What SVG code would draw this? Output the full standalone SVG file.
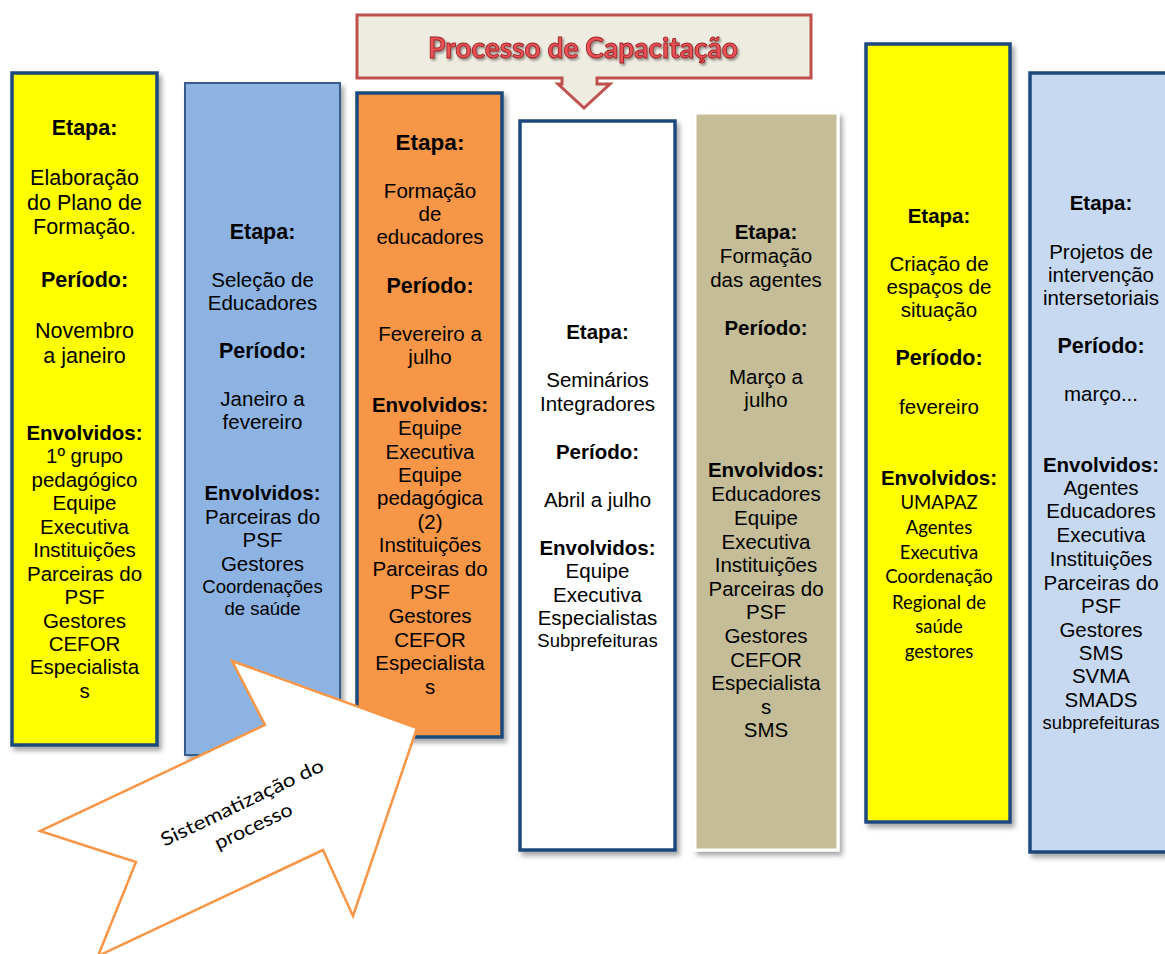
<svg xmlns="http://www.w3.org/2000/svg" width="1165" height="954" viewBox="0 0 1165 954">
<defs>
<filter id="sh" x="-10%" y="-10%" width="130%" height="130%">
<feDropShadow dx="3" dy="4" stdDeviation="2.5" flood-color="#000" flood-opacity="0.35"/>
</filter>
<filter id="tsh" x="-10%" y="-30%" width="130%" height="170%">
<feDropShadow dx="1.5" dy="2" stdDeviation="1.2" flood-color="#000" flood-opacity="0.4"/>
</filter>
</defs>
<style>
.col{stroke:#1F497D;stroke-width:3.5;filter:url(#sh)}
text{font-family:"Liberation Sans",Arial,sans-serif;font-size:20.5px;text-anchor:middle;fill:#000}
.b{font-weight:bold}
.L{font-size:21.5px}
.s{font-size:18.5px}
.c{font-family:Lato,"Open Sans",sans-serif;font-size:18.5px}
.title{font-family:Lato,"Open Sans",sans-serif;font-weight:bold;font-size:29px;fill:#EC5257;stroke:#9A2226;stroke-width:0.9;filter:url(#tsh)}
.arrowtxt{font-family:Lato,"Open Sans",sans-serif;font-size:19px}
</style>

<g id="col1">
<rect class="col" x="12" y="73" width="145" height="672" fill="#FFFF00"/>
<text class="b L" x="84.5" y="135">Etapa:</text>
<text class="L" x="84.5" y="185">Elaboração</text>
<text class="L" x="84.5" y="210">do Plano de</text>
<text class="L" x="84.5" y="234">Formação.</text>
<text class="b L" x="84.5" y="287">Período:</text>
<text class="L" x="84.5" y="338">Novembro</text>
<text class="L" x="84.5" y="363">a janeiro</text>
<text class="b" x="84.5" y="440">Envolvidos:</text>
<text x="84.5" y="463">1º grupo</text>
<text x="84.5" y="487">pedagógico</text>
<text x="84.5" y="510">Equipe</text>
<text x="84.5" y="534">Executiva</text>
<text x="84.5" y="557">Instituições</text>
<text x="84.5" y="581">Parceiras do</text>
<text x="84.5" y="604">PSF</text>
<text x="84.5" y="628">Gestores</text>
<text x="84.5" y="651">CEFOR</text>
<text x="84.5" y="674">Especialista</text>
<text x="84.5" y="698">s</text>
</g>

<g id="col2">
<rect x="185" y="83" width="155" height="672" fill="#8DB3E2" stroke="#385D8A" stroke-width="2" filter="url(#sh)"/>
<text class="b L" x="262.5" y="239">Etapa:</text>
<text x="262.5" y="287">Seleção de</text>
<text x="262.5" y="310">Educadores</text>
<text class="b L" x="262.5" y="358">Período:</text>
<text x="262.5" y="406">Janeiro a</text>
<text x="262.5" y="429">fevereiro</text>
<text class="b" x="262.5" y="500">Envolvidos:</text>
<text x="262.5" y="524">Parceiras do</text>
<text x="262.5" y="547">PSF</text>
<text x="262.5" y="571">Gestores</text>
<text class="s" x="262.5" y="593">Coordenações</text>
<text class="s" x="262.5" y="615">de saúde</text>
</g>

<g id="col3">
<rect class="col" x="357" y="93" width="145" height="644" fill="#F79646"/>
<text class="b" style="font-size:22.5px" x="430" y="150">Etapa:</text>
<text x="430" y="198">Formação</text>
<text x="430" y="221">de</text>
<text x="430" y="244">educadores</text>
<text class="b L" x="430" y="293">Período:</text>
<text x="430" y="341">Fevereiro a</text>
<text x="430" y="364">julho</text>
<text class="b" x="430" y="412">Envolvidos:</text>
<text x="430" y="435">Equipe</text>
<text x="430" y="459">Executiva</text>
<text x="430" y="482">Equipe</text>
<text x="430" y="505">pedagógica</text>
<text x="430" y="529">(2)</text>
<text x="430" y="552">Instituições</text>
<text x="430" y="576">Parceiras do</text>
<text x="430" y="599">PSF</text>
<text x="430" y="623">Gestores</text>
<text x="430" y="647">CEFOR</text>
<text x="430" y="670">Especialista</text>
<text x="430" y="694">s</text>
</g>

<g id="col4">
<rect class="col" x="520" y="121" width="155" height="729" fill="#FFFFFF"/>
<text class="b" x="597.5" y="339">Etapa:</text>
<text x="597.5" y="387">Seminários</text>
<text x="597.5" y="411">Integradores</text>
<text class="b" x="597.5" y="459">Período:</text>
<text x="597.5" y="507">Abril a julho</text>
<text class="b" x="597.5" y="555">Envolvidos:</text>
<text x="597.5" y="578">Equipe</text>
<text x="597.5" y="602">Executiva</text>
<text x="597.5" y="625">Especialistas</text>
<text class="s" x="597.5" y="647">Subprefeituras</text>
</g>

<g id="col5">
<rect x="695" y="113" width="143" height="737" fill="#C4BD97" stroke="#FFFFFF" stroke-width="3" filter="url(#sh)"/>
<text class="b" x="766" y="239">Etapa:</text>
<text x="766" y="263">Formação</text>
<text x="766" y="287">das agentes</text>
<text class="b" x="766" y="335">Período:</text>
<text x="766" y="384">Março a</text>
<text x="766" y="407">julho</text>
<text class="b" x="766" y="477">Envolvidos:</text>
<text x="766" y="501">Educadores</text>
<text x="766" y="525">Equipe</text>
<text x="766" y="549">Executiva</text>
<text x="766" y="572">Instituições</text>
<text x="766" y="596">Parceiras do</text>
<text x="766" y="619">PSF</text>
<text x="766" y="643">Gestores</text>
<text x="766" y="667">CEFOR</text>
<text x="766" y="690">Especialista</text>
<text x="766" y="714">s</text>
<text x="766" y="737">SMS</text>
</g>

<g id="col6">
<rect class="col" x="866" y="44" width="144" height="778" fill="#FFFF00"/>
<text class="b" x="939" y="223">Etapa:</text>
<text x="939" y="271">Criação de</text>
<text x="939" y="294">espaços de</text>
<text x="939" y="317">situação</text>
<text class="b L" x="939" y="365">Período:</text>
<text x="939" y="414">fevereiro</text>
<text class="b" x="939" y="485">Envolvidos:</text>
<text class="c" x="939" y="509">UMAPAZ</text>
<text class="c" x="939" y="534">Agentes</text>
<text class="c" x="939" y="559">Executiva</text>
<text class="c" x="939" y="583">Coordenação</text>
<text class="c" x="939" y="609">Regional de</text>
<text class="c" x="939" y="633">saúde</text>
<text class="c" x="939" y="658">gestores</text>
</g>

<g id="col7">
<rect class="col" x="1030" y="73" width="150" height="779" fill="#C6D9F1"/>
<text class="b" x="1101" y="210">Etapa:</text>
<text x="1101" y="259">Projetos de</text>
<text x="1101" y="282">intervenção</text>
<text x="1101" y="305">intersetoriais</text>
<text class="b L" x="1101" y="353">Período:</text>
<text x="1101" y="401">março...</text>
<text class="b" x="1101" y="472">Envolvidos:</text>
<text x="1101" y="495">Agentes</text>
<text x="1101" y="518">Educadores</text>
<text x="1101" y="542">Executiva</text>
<text x="1101" y="566">Instituições</text>
<text x="1101" y="590">Parceiras do</text>
<text x="1101" y="613">PSF</text>
<text x="1101" y="637">Gestores</text>
<text x="1101" y="660">SMS</text>
<text x="1101" y="683">SVMA</text>
<text x="1101" y="707">SMADS</text>
<text class="s" x="1101" y="729">subprefeituras</text>
</g>

<g id="title">
<path d="M357,15 H811 V78 H597 V84 H610 L584,108 L558,84 H562 V78 H357 Z" fill="#EEECE1" stroke="#C0504D" stroke-width="3" stroke-linejoin="miter"/>
<text class="title" x="583" y="58" textLength="310" lengthAdjust="spacingAndGlyphs">Processo de Capacitação</text>
</g>

<g id="sistematizacao">
<polygon points="232,661 417,728 353,916 323,850 98,956 136,862 40,831 265,725" fill="#FFFFFF" stroke="#F79646" stroke-width="2.5" stroke-linejoin="miter"/>
<g transform="translate(247,813) rotate(-25.5)">
<text class="arrowtxt" x="0" y="-5" textLength="178" lengthAdjust="spacingAndGlyphs">Sistematização do</text>
<text class="arrowtxt" x="0" y="21" textLength="84" lengthAdjust="spacingAndGlyphs">processo</text>
</g>
</g>

<g id="connectors"></g>
</svg>
